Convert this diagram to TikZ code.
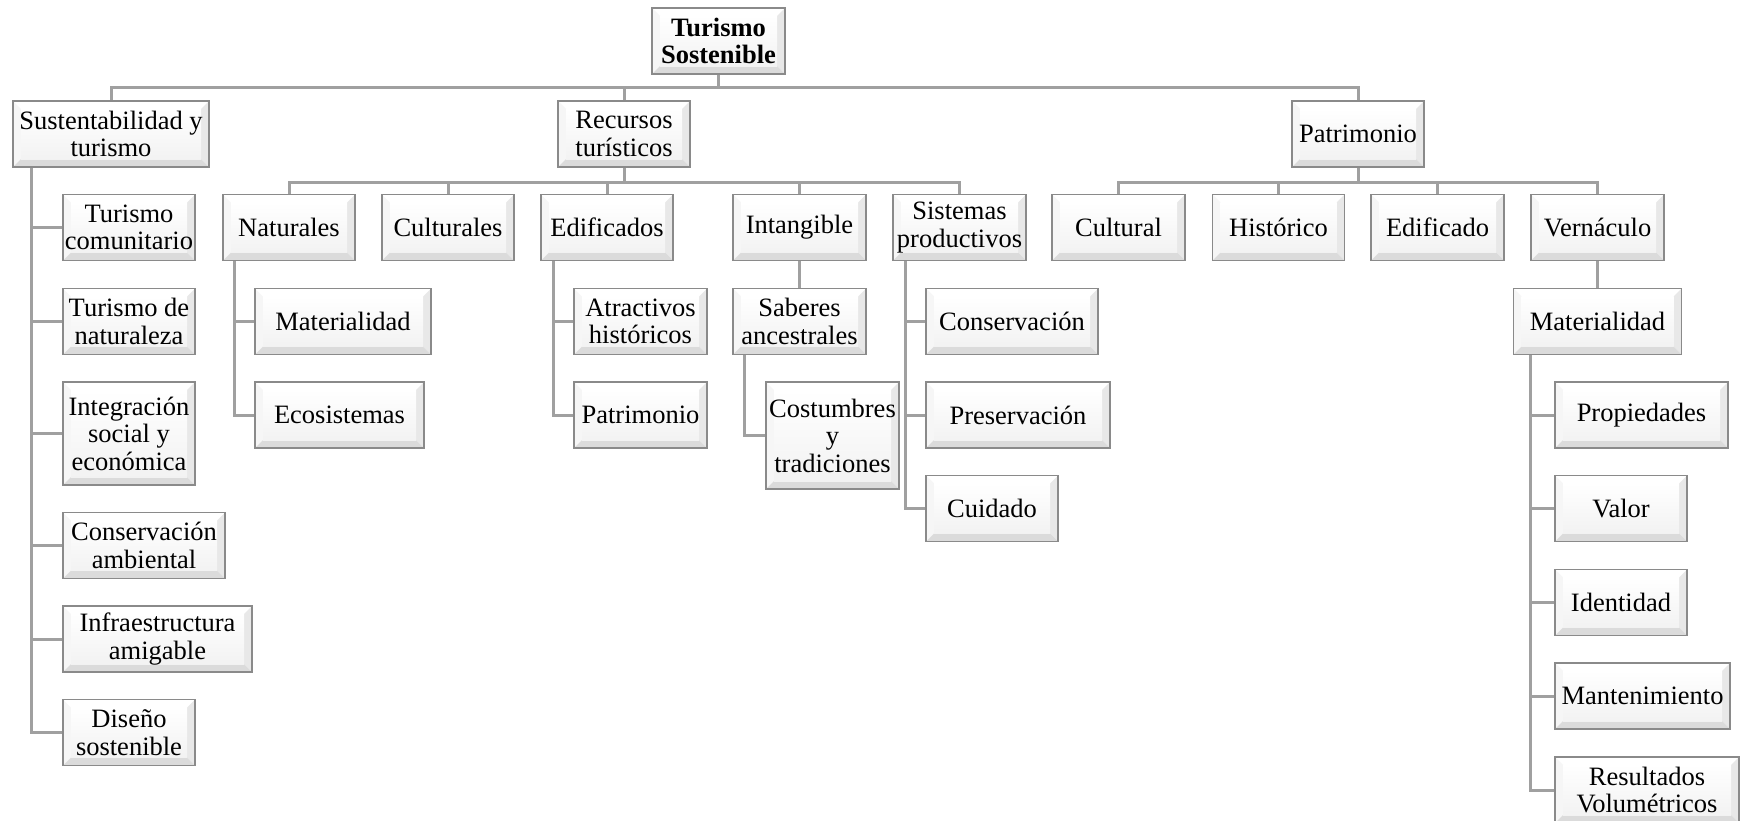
\documentclass[tikz,border=0pt]{standalone}
\usepackage{fontspec}
\setmainfont{Liberation Serif}
\usetikzlibrary{calc}
\definecolor{tsline}{RGB}{160,160,160}
\definecolor{tsedge}{RGB}{138,138,138}
\tikzset{
  bevel/.style={path picture={
    \coordinate (bsw) at (path picture bounding box.south west);
    \coordinate (bse) at (path picture bounding box.south east);
    \coordinate (bnw) at (path picture bounding box.north west);
    \coordinate (bne) at (path picture bounding box.north east);
    \fill[white] (bnw) -- (bne) -- ([shift={(-8pt,-8pt)}]bne) -- ([shift={(8pt,-8pt)}]bnw) -- cycle;
    \fill[gray!7] (bnw) -- (bsw) -- ([shift={(8pt,8pt)}]bsw) -- ([shift={(8pt,-8pt)}]bnw) -- cycle;
    \fill[gray!18] (bne) -- (bse) -- ([shift={(-8pt,8pt)}]bse) -- ([shift={(-8pt,-8pt)}]bne) -- cycle;
    \fill[gray!28] (bsw) -- (bse) -- ([shift={(-8pt,8pt)}]bse) -- ([shift={(8pt,8pt)}]bsw) -- cycle;
    \shade[top color=white, bottom color=gray!10] ([shift={(8pt,8pt)}]bsw) rectangle ([shift={(-8pt,-8pt)}]bne);
  }},
  tcard/.style={draw=tsedge, line width=1.5pt, align=center, inner sep=0pt,
    minimum height=66pt, minimum width=132pt, font=\fontsize{26.5}{27.5}\selectfont, bevel},
  conn/.style={line width=3pt, tsline}
}

\begin{document}
\begin{tikzpicture}[x=1pt,y=-1pt]
  \useasboundingbox (0,0) rectangle (1741,820);

  \node[tcard, minimum width=133pt] (root) at (718.5,41) {\textbf{Turismo}\\\textbf{Sostenible}};
  \node[tcard, minimum width=196pt] (sust) at (111,134) {Sustentabilidad y\\turismo};
  \node[tcard] (recur) at (624,134) {Recursos\\turísticos};
  \node[tcard] (patr) at (1358,134) {Patrimonio};

  \node[tcard] (nat) at (289,227.5) {Naturales};
  \node[tcard] (cult) at (448,227.5) {Culturales};
  \node[tcard] (edif) at (607,227.5) {Edificados};
  \node[tcard, minimum width=133pt] (intang) at (799.5,227.5) {Intangible};
  \node[tcard, minimum width=133pt] (sist) at (959.5,227.5) {Sistemas\\productivos};

  \node[tcard, minimum width=133pt] (pcult) at (1118.5,227.5) {Cultural};
  \node[tcard] (phist) at (1278.5,227.5) {Histórico};
  \node[tcard, minimum width=133pt] (pedif) at (1437.5,227.5) {Edificado};
  \node[tcard, minimum width=133pt] (vern) at (1597.5,227.5) {Vernáculo};

  \node[tcard] (tcom) at (129,227.5) {Turismo\\comunitario};
  \node[tcard] (tnat) at (129,321.5) {Turismo de\\naturaleza};
  \node[tcard, minimum height=103pt] (integ) at (129,433.5) {Integración\\social y\\económica};
  \node[tcard, minimum width=162pt] (consamb) at (144,545.5) {Conservación\\ambiental};
  \node[tcard, minimum width=189pt] (infra) at (157.5,639) {Infraestructura\\amigable};
  \node[tcard] (diseno) at (129,732.5) {Diseño\\sostenible};

  \node[tcard, minimum width=176pt] (nmat) at (343,321.5) {Materialidad};
  \node[tcard, minimum width=169pt] (eco) at (339.5,415) {Ecosistemas};

  \node[tcard, minimum width=133pt] (atrac) at (640.5,321.5) {Atractivos\\históricos};
  \node[tcard, minimum width=133pt] (epat) at (640.5,415) {Patrimonio};

  \node[tcard, minimum width=133pt] (saber) at (799.5,321.5) {Saberes\\ancestrales};
  \node[tcard, minimum width=133pt, minimum height=107pt] (costum) at (832.5,435.5) {Costumbres\\y\\tradiciones};

  \node[tcard, minimum width=172pt] (conserv) at (1012,321.5) {Conservación};
  \node[tcard, minimum width=184pt] (preserv) at (1018,415) {Preservación};
  \node[tcard] (cuidado) at (992,508.5) {Cuidado};

  \node[tcard, minimum width=168pt] (vmat) at (1597.5,321.5) {Materialidad};
  \node[tcard, minimum width=173pt] (prop) at (1641.5,415) {Propiedades};
  \node[tcard] (valor) at (1621,508.5) {Valor};
  \node[tcard] (ident) at (1621,602.5) {Identidad};
  \node[tcard, minimum width=175pt] (mant) at (1642.5,696) {Mantenimiento};
  \node[tcard, minimum width=184pt] (resvol) at (1647,790) {Resultados\\Volumétricos};

  \foreach \c in {sust,recur,patr}
    \draw[conn] (root.south) -- ++(0,13) -| (\c.north);
  \foreach \c in {nat,cult,edif,intang,sist}
    \draw[conn] (recur.south) -- ++(0,15) -| (\c.north);
  \foreach \c in {pcult,phist,pedif,vern}
    \draw[conn] (patr.south) -- ++(0,15) -| (\c.north);

  \foreach \c in {tcom,tnat,integ,consamb,infra,diseno}
    \draw[conn] ([xshift=19pt]sust.south west) |- (\c.west);
  \foreach \c in {nmat,eco}
    \draw[conn] ([xshift=12pt]nat.south west) |- (\c.west);
  \foreach \c in {atrac,epat}
    \draw[conn] ([xshift=13pt]edif.south west) |- (\c.west);
  \draw[conn] (intang.south) -- (saber.north);
  \draw[conn] ([xshift=12pt]saber.south west) |- (costum.west);
  \foreach \c in {conserv,preserv,cuidado}
    \draw[conn] ([xshift=13pt]sist.south west) |- (\c.west);
  \draw[conn] (vern.south) -- (vmat.north);
  \foreach \c in {prop,valor,ident,mant,resvol}
    \draw[conn] ([xshift=18pt]vmat.south west) |- (\c.west);
\end{tikzpicture}
\end{document}
